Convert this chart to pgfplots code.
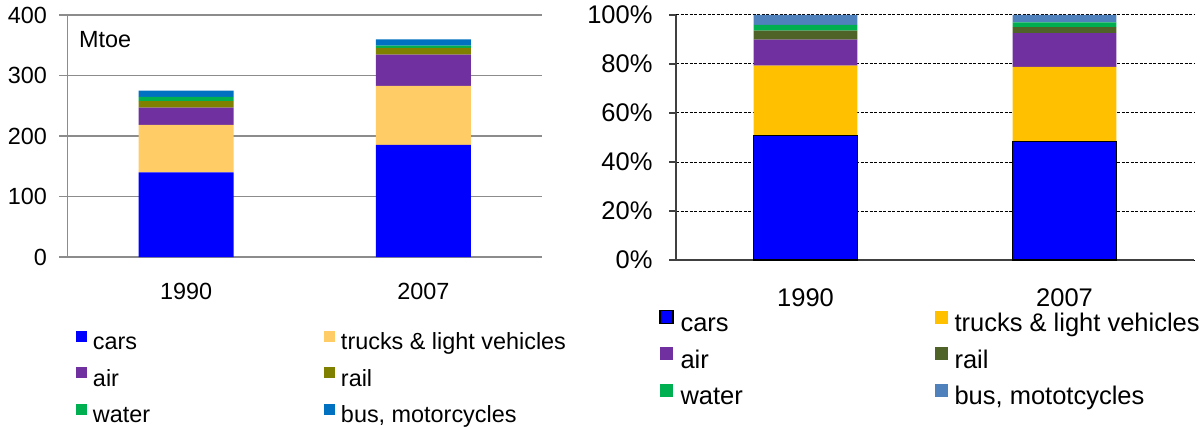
\documentclass[border=0pt]{standalone}
\usepackage{pgfplots}
\pgfplotsset{compat=1.18}
\usepackage{fontspec}
\setmainfont{Liberation Sans}
\definecolor{lCars}{HTML}{0000FF}
\definecolor{lTrucks}{HTML}{FFCC66}
\definecolor{lAir}{HTML}{7030A0}
\definecolor{lRail}{HTML}{808000}
\definecolor{lWater}{HTML}{00B050}
\definecolor{lBus}{HTML}{0070C0}
\definecolor{rCars}{HTML}{0000FF}
\definecolor{rTrucks}{HTML}{FFC000}
\definecolor{rAir}{HTML}{7030A0}
\definecolor{rRail}{HTML}{4F6228}
\definecolor{rWater}{HTML}{00B050}
\definecolor{rBus}{HTML}{4F81BD}
\definecolor{lgrid}{HTML}{8C8C8C}
\definecolor{raxis}{HTML}{404040}
\begin{document}
\begin{tikzpicture}[x=1bp,y=1bp]
\useasboundingbox (0,0) rectangle (1201,427);
% ---------------- left chart ----------------
\begin{axis}[
  at={(67.5bp,170bp)}, anchor=south west,
  scale only axis, width=474.5bp, height=242bp,
  ybar stacked, bar width=0.4,
  xmin=-0.5, xmax=1.5, ymin=0, ymax=400,
  axis x line*=bottom, axis y line*=left,
  axis line style={lgrid, line width=1.2bp, -},
  xtick={0,1}, xticklabels={1990,2007},
  major x tick style={draw=none},
  extra x ticks={-0.5,0.5,1.5}, extra x tick labels={},
  extra x tick style={major tick length=8bp, tick style={lgrid, line width=1.2bp}, grid=none},
  ytick={0,100,200,300,400}, yticklabels={0,100,200,300,400},
  tick align=outside, major tick length=8bp,
  ytick style={lgrid, line width=1.2bp},
  ymajorgrids, grid style={lgrid, line width=1.2bp},
  tick label style={font=\fontsize{23.4bp}{28bp}\selectfont, text=black},
  xticklabel style={yshift=-15bp},
  yticklabel style={xshift=-9bp},
  legend columns=2,
  legend cell align=left,
  legend style={at={(0.0179,-0.306)}, anchor=north west, draw=none, fill=none,
    inner sep=0pt, outer sep=0pt, column sep=0pt, row sep=12.5bp,
    font=\fontsize{23.4bp}{28bp}\selectfont,
    nodes={inner sep=0pt, text height=16.5bp, text depth=5bp}},
  legend image code/.code={\path[#1] (0bp,2bp) rectangle (11bp,13bp); \path (17bp,0bp);},
]
\addplot[fill=lCars, draw=none] coordinates {(0,140) (1,185.3)};
\addlegendentry{\makebox[231bp][l]{cars}}
\addplot[fill=lTrucks, draw=none] coordinates {(0,78.5) (1,97.7)};
\addlegendentry{trucks \& light vehicles}
\addplot[fill=lAir, draw=none] coordinates {(0,28.5) (1,51.5)};
\addlegendentry{\makebox[231bp][l]{air}}
\addplot[fill=lRail, draw=none] coordinates {(0,10.5) (1,11)};
\addlegendentry{rail}
\addplot[fill=lWater, draw=none] coordinates {(0,7) (1,3.8)};
\addlegendentry{\makebox[231bp][l]{water}}
\addplot[fill=lBus, draw=none] coordinates {(0,10.5) (1,10.3)};
\addlegendentry{bus, motorcycles}
\node[anchor=west, font=\fontsize{23.4bp}{28bp}\selectfont, inner sep=0pt] at (rel axis cs:0.024,0.899) {Mtoe};
\end{axis}
% ---------------- right chart ----------------
\begin{axis}[
  at={(676bp,167bp)}, anchor=south west,
  scale only axis, width=518bp, height=245bp,
  ybar stacked, bar width=0.4,
  xmin=-0.5, xmax=1.5, ymin=0, ymax=100,
  axis x line*=bottom, axis y line*=left,
  axis line style={raxis, line width=1.5bp, -},
  xtick={0,1}, xticklabels={1990,2007},
  major x tick style={draw=none},
  extra x ticks={-0.5,0.5,1.5}, extra x tick labels={},
  extra x tick style={major tick length=7bp, tick style={raxis, line width=1.5bp}, grid=none},
  ytick={0,20,40,60,80,100}, yticklabels={0\%,20\%,40\%,60\%,80\%,100\%},
  tick align=outside, major tick length=7bp,
  ytick style={raxis, line width=1.5bp},
  ymajorgrids, grid style={black, line width=1bp, dash pattern=on 3bp off 1.5bp},
  tick label style={font=\fontsize{25.5bp}{30bp}\selectfont, text=black},
  xticklabel style={yshift=-18bp},
  yticklabel style={xshift=-13bp},
  legend columns=2,
  legend cell align=left,
  legend style={at={(-0.0328,-0.204)}, anchor=north west, draw=none, fill=none,
    inner sep=0pt, outer sep=0pt, column sep=0pt, row sep=10bp,
    font=\fontsize{25.5bp}{30bp}\selectfont,
    nodes={inner sep=0pt, text height=18.5bp, text depth=5.5bp}},
  legend image code/.code={\path[#1] (0bp,1.5bp) rectangle (13bp,14.5bp); \path (20bp,0bp);},
]
\addplot[fill=rCars, draw=black, line width=1.5bp] coordinates {(0,50.9) (1,48.4)};
\addlegendentry{\makebox[254bp][l]{cars}}
\addplot[fill=rTrucks, draw=none] coordinates {(0,28.4) (1,30.4)};
\addlegendentry{trucks \& light vehicles}
\addplot[fill=rAir, draw=none] coordinates {(0,10.6) (1,13.8)};
\addlegendentry{\makebox[254bp][l]{air}}
\addplot[fill=rRail, draw=none] coordinates {(0,3.7) (1,2.5)};
\addlegendentry{rail}
\addplot[fill=rWater, draw=none] coordinates {(0,2.4) (1,1.9)};
\addlegendentry{\makebox[254bp][l]{water}}
\addplot[fill=rBus, draw=none] coordinates {(0,4.0) (1,3.0)};
\addlegendentry{bus, mototcycles}
\end{axis}
\end{tikzpicture}
\end{document}
